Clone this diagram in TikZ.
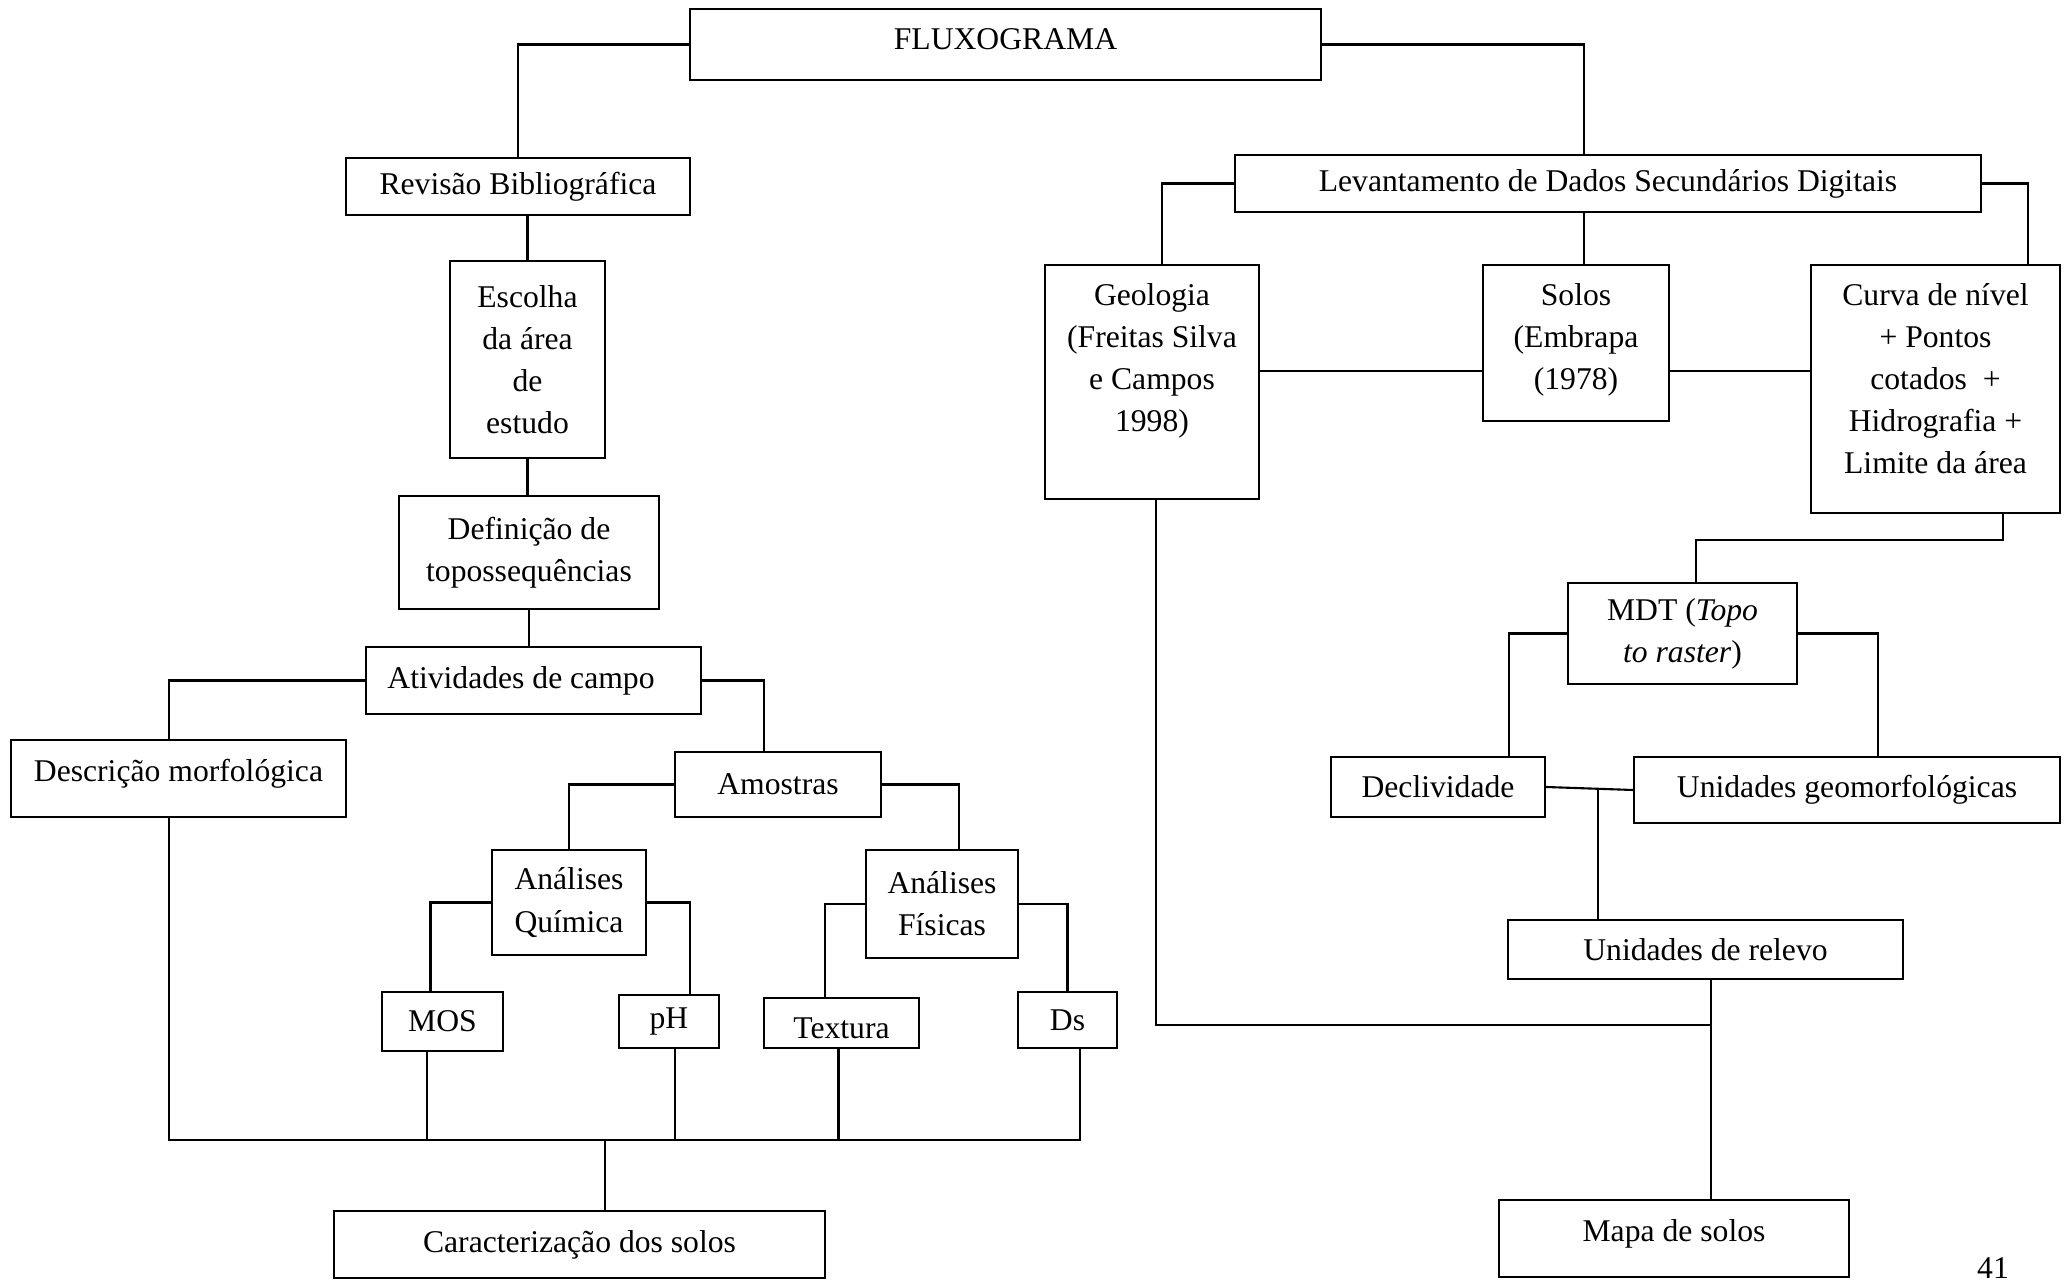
\documentclass[tikz,border=0pt]{standalone}
\usepackage{fontspec}
\setmainfont{Liberation Serif}
\usetikzlibrary{calc}

\begin{document}
\begin{tikzpicture}[x=0.01cm, y=-0.01cm,
    caixa/.style={draw, line width=0.6pt, inner sep=0pt, align=center, font=\fontsize{9}{12}\selectfont},
    alta/.style={caixa, align=flush center, anchor=north, text height=0.4cm},
    linha/.style={line width=0.6pt}]
    \useasboundingbox (0,0) rectangle (2069,1280);

    % Topo
    \node[caixa, minimum width=6.31cm, minimum height=0.71cm, text depth=3pt] (flux) at (1005.5,44.5) {FLUXOGRAMA};

    % Lado esquerdo
    \node[caixa, minimum width=3.44cm, minimum height=0.57cm] (rev) at (518,186.5) {Revisão Bibliográfica};
    \node[caixa, minimum width=1.55cm, minimum height=1.97cm] (esc) at (527.5,359.5) {Escolha\\da área\\de\\estudo};
    \node[caixa, minimum width=2.6cm, minimum height=1.13cm] (def) at (529,552.5) {Definição de\\topossequências};
    \node[caixa, minimum width=3.35cm, minimum height=0.67cm] (ativ) at (533.5,680.5) {Atividades de campo\hspace*{0.25cm}};
    \node[caixa, minimum width=3.35cm, minimum height=0.77cm, text depth=4.5pt] (desc) at (178.5,778.5) {Descrição morfológica};
    \node[caixa, minimum width=2.06cm, minimum height=0.65cm] (amo) at (778,784.5) {Amostras};
    \node[caixa, minimum width=1.54cm, minimum height=1.05cm] (aq) at (569,902.5) {Análises\\Química};
    \node[caixa, minimum width=1.52cm, minimum height=1.08cm] (af) at (942,904) {Análises\\Físicas};
    \node[caixa, minimum width=1.21cm, minimum height=0.59cm] (mos) at (442.5,1021.5) {MOS};
    \node[caixa, minimum width=1cm, minimum height=0.53cm] (ph) at (669,1021.5) {pH};
    \node[caixa, minimum width=1.55cm, minimum height=0.5cm, text height=8.8pt] (tex) at (841.5,1023) {Textura};
    \node[caixa, minimum width=0.99cm, minimum height=0.56cm] (ds) at (1067.5,1020) {Ds};
    \node[caixa, minimum width=4.91cm, minimum height=0.67cm] (car) at (579.5,1244.5) {Caracterização dos solos};

    % Lado direito
    \node[caixa, minimum width=7.46cm, minimum height=0.57cm] (lev) at (1608,183.5) {Levantamento de Dados Secundários Digitais};
    \node[alta, text width=2.14cm, text depth=1.94cm] (geo) at (1152,264) {Geologia\\(Freitas Silva\\e Campos\\1998)};
    \node[alta, text width=1.86cm, text depth=1.16cm] (sol) at (1576,264) {Solos\\(Embrapa\\(1978)};
    \node[alta, text width=2.49cm, text depth=2.08cm] (cur) at (1935.5,264) {Curva de nível\\+ Pontos\\cotados~~+\\Hidrografia +\\Limite da área};
    \node[caixa, minimum width=2.29cm, minimum height=1.01cm] (mdt) at (1682.5,633.5) {MDT (\textit{Topo}\\\textit{to raster})};
    \node[caixa, minimum width=2.14cm, minimum height=0.6cm] (decl) at (1438,787) {Declividade};
    \node[caixa, minimum width=4.26cm, minimum height=0.66cm] (ugeo) at (1847,790) {Unidades geomorfológicas};
    \node[caixa, minimum width=3.95cm, minimum height=0.59cm] (urel) at (1705.5,949.5) {Unidades de relevo};
    \node[caixa, minimum width=3.5cm, minimum height=0.77cm, text depth=4.5pt] (mapa) at (1674,1238.5) {Mapa de solos};
    \node[font=\fontsize{9}{12}\selectfont, inner sep=0pt] (pag) at (1993,1268) {41};

    % Ligacoes do lado esquerdo
    \draw[linha] (flux.west) -| (rev.north);
    \draw[linha] (esc.north |- rev.south) -- (esc.north);
    \draw[linha] (esc.south) -- (esc.south |- def.north);
    \draw[linha] (def.south) -- (def.south |- ativ.north);
    \draw[linha] (ativ.west) -| ([xshift=-0.095cm]desc.north);
    \draw[linha] (ativ.east) -| ([xshift=-0.14cm]amo.north);
    \draw[linha] (amo.west) -| (aq.north);
    \draw[linha] (amo.east) -| ([xshift=0.17cm]af.north);
    \draw[linha] (aq.west) -| ([xshift=-0.12cm]mos.north);
    \draw[linha] (aq.east) -| ([xshift=0.21cm]ph.north);
    \draw[linha] (af.west) -| ([xshift=-0.165cm]tex.north);
    \draw[linha] (af.east) -| (ds.north);

    % Barra de juncao
    \coordinate (bus) at (605,1140);
    \draw[linha] ([xshift=-0.095cm]desc.south) |- ([xshift=0.125cm]ds.south |- bus);
    \draw[linha] ([xshift=-0.155cm]mos.south) |- (bus);
    \draw[linha] ([xshift=0.06cm]ph.south) |- (bus);
    \draw[linha] ([xshift=-0.03cm]tex.south) |- (bus);
    \draw[linha] ([xshift=0.125cm]ds.south) |- (bus);
    \draw[linha] (bus) -- (bus |- car.north);

    % Ligacoes do lado direito
    \draw[linha] (flux.east) -| ([xshift=-0.24cm]lev.north);
    \draw[linha] (lev.west) -| ([xshift=0.1cm]geo.north);
    \draw[linha] ([xshift=-0.24cm]lev.south) -- ([xshift=-0.24cm]lev.south |- sol.north);
    \draw[linha] (lev.east) -| ([xshift=-0.33cm]cur.north east);
    \draw[linha] ([yshift=0.11cm]geo.east) -- ([yshift=0.11cm]geo.east -| sol.west);
    \draw[linha] ([yshift=0.11cm]geo.east -| sol.east) -- ([yshift=0.11cm]geo.east -| cur.west);
    \coordinate (cm) at (1696,540);
    \draw[linha] ([xshift=-0.58cm]cur.south east) |- (cm) -- (cm |- mdt.north);
    \draw[linha] (mdt.west) -| ([xshift=-0.37cm]decl.north east);
    \draw[linha] (mdt.east) -| ([xshift=0.31cm]ugeo.north);
    \draw[linha] (decl.east) -- (ugeo.west);
    \coordinate (jr) at ($(decl.east)!0.6!(ugeo.west)$);
    \draw[linha] (jr) -- (jr |- urel.north);
    \draw[linha] ([xshift=0.055cm]urel.south) -- ([xshift=0.055cm]urel.south |- mapa.north);
    \coordinate (gm) at (1711,1025);
    \draw[linha] ([xshift=0.04cm]geo.south) |- (gm);
\end{tikzpicture}
\end{document}
